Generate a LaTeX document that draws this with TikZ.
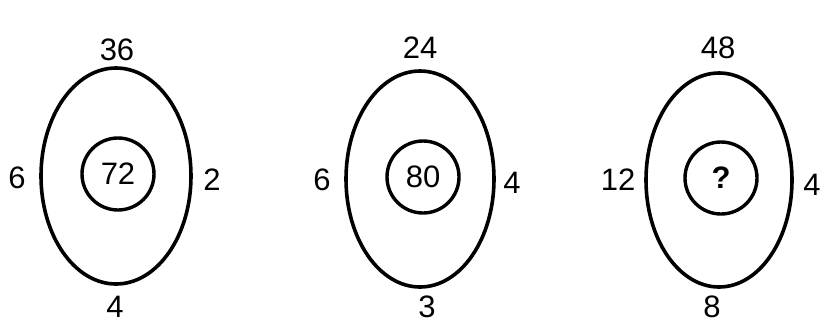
\documentclass[tikz,border=0pt]{standalone}
\usepackage{fontspec}
\setmainfont{Liberation Sans}
\usetikzlibrary{shapes.geometric}
\begin{document}
\begin{tikzpicture}[x=1pt,y=-1pt,
  egg/.style={draw, ellipse, line width=3.6pt, inner sep=0pt},
  ring/.style={draw, circle, line width=3.4pt, inner sep=0pt, minimum size=72pt, font=\fontsize{31}{33}\selectfont},
  num/.style={inner sep=0pt, font=\fontsize{31}{33}\selectfont}]
\useasboundingbox[fill=white] (0,0) rectangle (822,325);
% figure 1
\node[egg, minimum width=150pt, minimum height=216pt] (e1) at (116,176) {};
\node[ring] (c1) at (118,174) {72};
\node[num] (t1) at (117,50) {36};
\node[num] (l1) at (17,178) {6};
\node[num] (r1) at (212,180) {2};
\node[num] (b1) at (115,307) {4};
% figure 2
\node[egg, minimum width=148pt, minimum height=216pt] (e2) at (420,179) {};
\node[ring] (c2) at (423,177) {80};
\node[num] (t2) at (420,48) {24};
\node[num] (l2) at (322,180) {6};
\node[num] (r2) at (512,183) {4};
\node[num] (b2) at (427,307) {3};
% figure 3
\node[egg, minimum width=146pt, minimum height=214pt] (e3) at (719,180) {};
\node[ring, font=\bfseries\fontsize{31}{33}\selectfont] (c3) at (721,178) {?};
\node[num] (t3) at (718,48) {48};
\node[num] (l3) at (618,180) {12};
\node[num] (r3) at (812,185) {4};
\node[num] (b3) at (712,307) {8};
\end{tikzpicture}
\end{document}
